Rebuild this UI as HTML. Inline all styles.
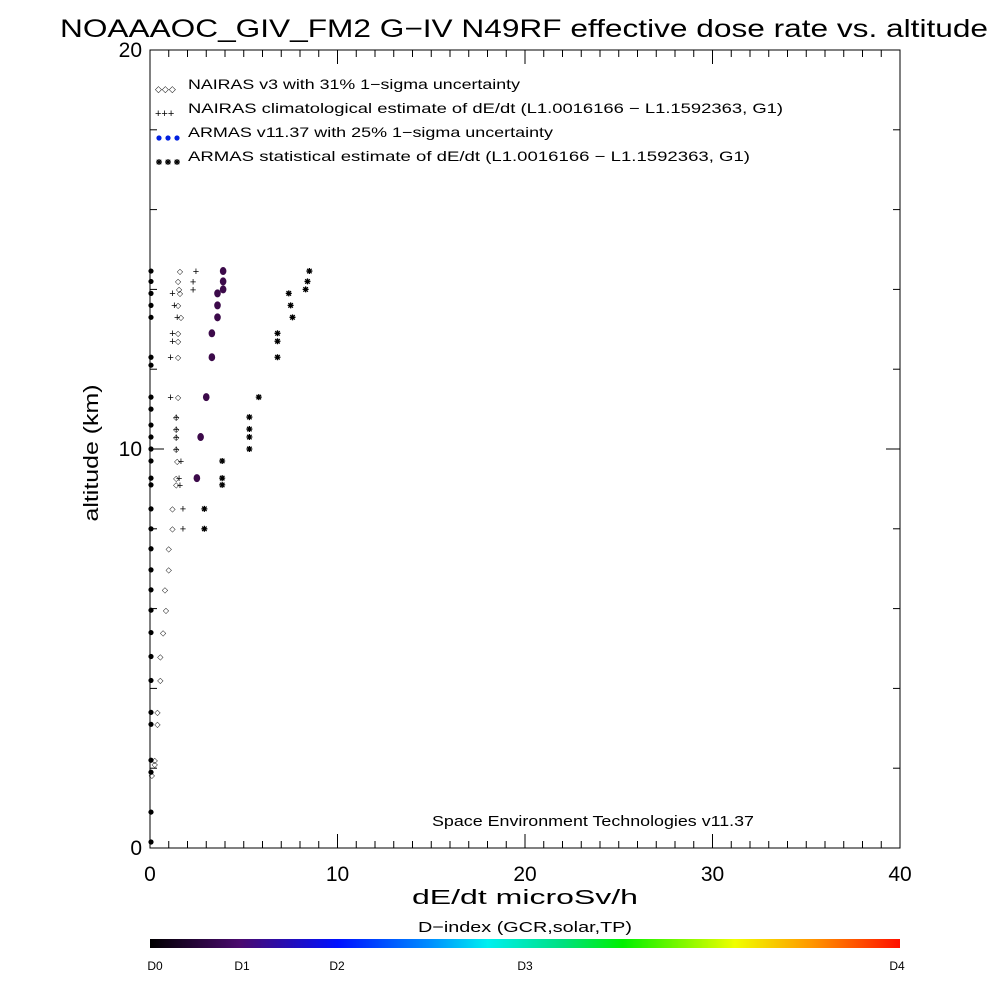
<!DOCTYPE html>
<html><head><meta charset="utf-8"><style>
body{margin:0;background:#fff;}
svg{display:block;font-family:"Liberation Sans","DejaVu Sans",sans-serif;}
</style></head><body>
<svg id="chart" width="1000" height="1000" viewBox="0 0 1000 1000">
<defs>
<linearGradient id="cbar" x1="0" x2="1" y1="0" y2="0">
<stop offset="0" stop-color="#000000"/>
<stop offset="0.12" stop-color="#4a0a6e"/>
<stop offset="0.25" stop-color="#0010ff"/>
<stop offset="0.375" stop-color="#0090ff"/>
<stop offset="0.45" stop-color="#00f0f0"/>
<stop offset="0.55" stop-color="#00e080"/>
<stop offset="0.63" stop-color="#00f000"/>
<stop offset="0.78" stop-color="#f0ff00"/>
<stop offset="0.88" stop-color="#ff9900"/>
<stop offset="1" stop-color="#ff1000"/>
</linearGradient>
</defs>
<text x="60" y="37" font-size="25" textLength="928" lengthAdjust="spacingAndGlyphs">NOAAAOC_GIV_FM2 G−IV   N49RF  effective dose rate vs. altitude</text>
<rect x="150" y="50" width="750" height="798" fill="none" stroke="#000" stroke-width="1"/>
<g id="axes"></g>
<g id="marks"></g>
<text x="98" y="453" font-size="20" text-anchor="middle" textLength="137" lengthAdjust="spacingAndGlyphs" transform="rotate(-90 98 453)">altitude (km)</text>
<text x="412" y="904" font-size="20" textLength="226" lengthAdjust="spacingAndGlyphs">dE/dt microSv/h</text>
<text x="432" y="826" font-size="15" textLength="322" lengthAdjust="spacingAndGlyphs">Space Environment Technologies v11.37</text>
<g font-size="14">
<text x="155" y="92" font-size="9">◇◇◇</text>
<text x="188" y="89" textLength="332" lengthAdjust="spacingAndGlyphs">NAIRAS v3 with 31% 1−sigma uncertainty</text>
<text x="155" y="117" font-size="11">+++</text>
<text x="188" y="113" textLength="595" lengthAdjust="spacingAndGlyphs">NAIRAS climatological estimate of dE/dt (L1.0016166 − L1.1592363, G1)</text>
<circle cx="159" cy="138" r="2.6" fill="#0020e0"/><circle cx="168" cy="138" r="2.6" fill="#0020e0"/><circle cx="177" cy="138" r="2.6" fill="#0020e0"/>
<text x="188" y="137" textLength="365" lengthAdjust="spacingAndGlyphs">ARMAS v11.37 with 25% 1−sigma uncertainty</text>
<g id="legstar"></g>
<text x="188" y="161" textLength="562" lengthAdjust="spacingAndGlyphs">ARMAS statistical estimate of dE/dt (L1.0016166 − L1.1592363, G1)</text>
</g>
<rect x="150" y="939" width="750" height="9" fill="url(#cbar)"/>
<text x="418" y="932" font-size="15" textLength="214" lengthAdjust="spacingAndGlyphs">D−index (GCR,solar,TP)</text>
<g font-size="12" text-anchor="middle">
<text x="155" y="970">D0</text><text x="242" y="970">D1</text><text x="337" y="970">D2</text><text x="525" y="970">D3</text><text x="897" y="970">D4</text>
</g>
</svg>
<script>
const altitudes=[14.46,14.2,14.0,13.9,13.6,13.3,12.9,12.7,12.3,11.3,10.8,10.5,10.3,10.0,9.7,9.27,9.1,8.5,8.0];
const nairasVals=[1.6,1.5,1.55,1.6,1.5,1.65,1.5,1.5,1.5,1.5,1.4,1.4,1.4,1.4,1.45,1.4,1.4,1.2,1.2];
const climVals=[2.45,2.3,2.3,1.2,1.3,1.45,1.2,1.2,1.1,1.1,1.4,1.4,1.4,1.4,1.65,1.55,1.6,1.76,1.76];
const armasVals=[3.9,3.9,3.9,3.6,3.6,3.6,3.3,null,3.3,3.0,null,null,2.7,null,null,2.5,null,null,null];
const statVals=[8.5,8.4,8.3,7.4,7.5,7.6,6.8,6.8,6.8,5.8,5.3,5.3,5.3,5.3,3.85,3.85,3.85,2.9,2.9];
const lowAltitudes=[7.5,6.97,6.47,5.96,5.4,4.8,4.2,3.4,3.1,2.2,2.1,1.83];
const lowNairasVals=[1.0,1.0,0.8,0.85,0.7,0.55,0.55,0.4,0.4,0.25,0.25,0.1];
const axisDots=[14.46,14.2,13.9,13.6,13.3,12.3,12.1,11.3,11.0,10.6,10.3,10.0,9.7,9.27,9.1,8.5,8.0,7.5,6.97,6.47,5.96,5.4,4.8,4.2,3.4,3.1,2.2,1.9,0.9,0.15];
const xTicks=[0,10,20,30,40];
const yTicks=[0,10,20];
const NS="http://www.w3.org/2000/svg";
const X=v=>150+v*18.75, Y=a=>848-a*39.9;
const axes=document.getElementById('axes'), marks=document.getElementById('marks');
function mk(tag,attrs,parent){const e=document.createElementNS(NS,tag);for(const k in attrs)e.setAttribute(k,attrs[k]);parent.appendChild(e);return e;}
function starPath(cx,cy,r){return `M${cx-r},${cy}H${cx+r}M${cx},${cy-r}V${cy+r}M${cx-r*0.75},${cy-r*0.75}L${cx+r*0.75},${cy+r*0.75}M${cx-r*0.75},${cy+r*0.75}L${cx+r*0.75},${cy-r*0.75}`;}
const ls=document.getElementById('legstar');
[159,168,177].forEach(cx=>mk('path',{d:starPath(cx,162,3),stroke:'#000','stroke-width':1.2,fill:'none'},ls));
for(let v=0;v<=40;v++){const len=v%10===0?14:7;
 const t1=mk('line',{x1:X(v),x2:X(v),y1:848,y2:848-len,stroke:'#000'},axes);
 
 
 mk('line',{x1:X(v),x2:X(v),y1:50,y2:50+len,stroke:'#000'},axes);}
for(let a=0;a<=20;a+=2){const len=a%10===0?14:7;
 const t2=mk('line',{x1:150,x2:150+len,y1:Y(a),y2:Y(a),stroke:'#000'},axes);
 
 
 mk('line',{x1:900,x2:900-len,y1:Y(a),y2:Y(a),stroke:'#000'},axes);}
xTicks.forEach(v=>{const t=mk('text',{x:X(v),y:881,'font-size':21,'text-anchor':'middle'},axes);t.textContent=v;
 
 });
yTicks.forEach(a=>{const t=mk('text',{x:142,y:Y(a)+7,'font-size':21,'text-anchor':'end'},axes);t.textContent=a;
 
 });
function sym(ch,v,a,size){const t=mk('text',{x:X(v),y:Y(a)+size*0.35,'font-size':size,'text-anchor':'middle'},marks);t.textContent=ch;return t;}
altitudes.forEach((a,i)=>{
 const d=sym('◇',nairasVals[i],a,8);
 
 
 const p=sym('+',climVals[i],a,11);
 
 
 const s=mk('path',{d:starPath(X(statVals[i]),Y(a),3),stroke:'#000','stroke-width':1.3,fill:'none'},marks);
 
 
 if(armasVals[i]!==null){const c=mk('ellipse',{cx:X(armasVals[i]),cy:Y(a),rx:3.3,ry:4,fill:'#3c0a4a'},marks);
  
  }
});
lowAltitudes.forEach((a,i)=>{const d=sym('◇',lowNairasVals[i],a,8);
 
 });
axisDots.forEach(a=>{const c=mk('circle',{cx:151,cy:Y(a),r:2.6,fill:'#000'},marks);
 
 });
</script>
</body></html>
